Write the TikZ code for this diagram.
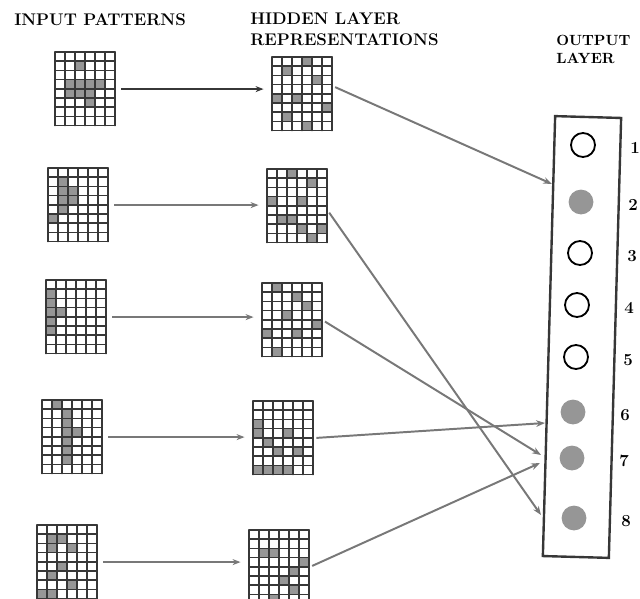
\documentclass[tikz,border=0pt]{standalone}
\usepackage{tikz}
\usetikzlibrary{arrows.meta}
\usetikzlibrary{calc}
\definecolor{inkgray}{RGB}{55,55,55}
\definecolor{cellgray}{RGB}{150,150,150}
\definecolor{linkgray}{RGB}{120,120,120}
\newcommand{\patgrid}[4]{%
    \node[gridbox, anchor=north west] (#1) at (#2, #3) {};
    \foreach \cx/\ry in {#4} {
        \fill[cellgray] (#2+\cx*\cellw, #3+\ry*\cellh) rectangle ++(\cellw, \cellh);
    }
    \foreach \i in {0,...,6} {
        \draw[gridline] (#2+\i*\cellw, #3) -- ++(0, 8*\cellh);
    }
    \foreach \j in {0,...,8} {
        \draw[gridline] (#2, #3+\j*\cellh) -- ++(6*\cellw, 0);
    }
}

\begin{document}
\begin{tikzpicture}[x=0.025cm, y=-0.025cm,
    gridbox/.style={minimum width=1.5cm, minimum height=1.84cm, inner sep=0pt},
    gridline/.style={inkgray, line width=1.1pt, line cap=round},
    inarrow/.style={draw=linkgray, line width=1pt, -{Stealth[length=2mm]}, shorten <=4pt, shorten >=6pt},
    firstarrow/.style={inarrow, draw=inkgray, line width=1.7pt},
    outarrow/.style={draw=linkgray, line width=1.4pt, -{Stealth[length=2.2mm]}, shorten <=2pt},
    outbox/.style={draw=inkgray, line width=1.7pt, minimum width=1.65cm, minimum height=11cm, inner sep=0pt},
    unitoff/.style={circle, draw=black, line width=1.3pt, minimum size=0.6cm, inner sep=0pt, fill=white},
    uniton/.style={circle, fill=cellgray, minimum size=0.62cm, inner sep=0pt},
    unitlabel/.style={font=\large\bfseries, inner sep=0pt},
    heading/.style={font=\fontsize{12}{15}\selectfont\bfseries, inner sep=0pt, align=left},
    outheading/.style={heading, font=\fontsize{10.5}{13}\selectfont\bfseries}]
    \def\cellw{10}
    \def\cellh{9.2}
    \useasboundingbox (0,0) rectangle (640,599);

    % Headings
    \node[heading, anchor=west] (tin) at (14,20) {INPUT PATTERNS};
    \node[heading, anchor=north west] (thid) at (250,12) {HIDDEN LAYER\\REPRESENTATIONS};
    \node[outheading, anchor=north west] (tout) at (556,35) {OUTPUT\\LAYER};

    % Input patterns
    \patgrid{in1}{55}{52}{1/3,2/3,3/3,4/3,1/4,2/4,3/4,2/1,3/5}
    \patgrid{in2}{48}{168}{1/1,1/2,1/3,2/2,1/4,2/3,0/5}
    \patgrid{in3}{46}{280}{0/1,0/2,0/3,0/4,0/5,1/3}
    \patgrid{in4}{42}{400}{2/1,2/2,2/3,2/4,2/5,2/6,3/3,1/0}
    \patgrid{in5}{37}{525}{1/1,2/1,1/2,3/2,2/4,1/5,3/6,0/7,1/7}

    % Hidden layer representations
    \patgrid{h1}{272}{57}{3/0,1/1,4/2,0/4,2/4,1/6,3/7,5/5}
    \patgrid{h2}{267}{169}{2/0,4/1,0/3,3/3,1/5,2/5,3/6,4/7,5/6}
    \patgrid{h3}{262}{283}{1/0,3/1,4/2,2/3,0/5,3/5,5/4,1/7}
    \patgrid{h4}{253}{401}{0/2,0/3,1/4,3/3,2/5,4/5,0/7,1/7,2/7,3/7}
    \patgrid{h5}{249}{530}{1/2,2/2,3/5,4/4,4/6,2/7,5/3}

    % Input to hidden
    \draw[firstarrow] (in1.east) -- (in1.east -| h1.west);
    \foreach \k in {2,...,5} {
        \draw[inarrow] (in\k.east) -- (in\k.east -| h\k.west);
    }

    % Output layer
    \node[outbox, rotate=-1.6] (outlayer) at (582,337) {};
    \foreach \n/\x/\y in {1/583/145, 3/580/253, 4/577/305, 5/576/357} {
        \node[unitoff] (u\n) at (\x,\y) {};
    }
    \foreach \n/\x/\y in {2/581/202, 6/573/412, 7/572/458, 8/574/518} {
        \node[uniton] (u\n) at (\x,\y) {};
    }
    \foreach \n in {1,...,8} {
        \node[unitlabel] (l\n) at ($(u\n)+(52,3)$) {\n};
    }

    % Hidden to output
    \coordinate (t2) at (552,184);
    \coordinate (t6) at (545,423);
    \coordinate (t7a) at (541,455);
    \coordinate (t7b) at (540,463);
    \coordinate (t8) at (541,515);
    \draw[outarrow] (h1.15) -- (t2);
    \draw[outarrow] (h2.-8) -- (t8);
    \draw[outarrow] (h3.east) -- (t7a);
    \draw[outarrow] (h4.east) -- (t6);
    \draw[outarrow] (h5.east) -- (t7b);
\end{tikzpicture}
\end{document}
